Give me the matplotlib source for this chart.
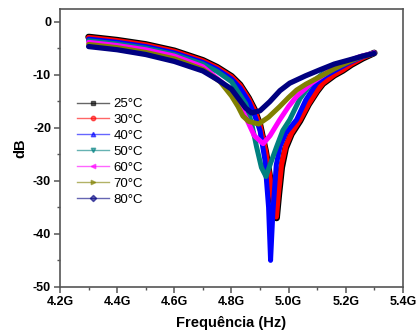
import matplotlib
matplotlib.use("Agg")
import matplotlib.pyplot as plt
from matplotlib.ticker import MultipleLocator, FuncFormatter
from matplotlib.lines import Line2D

plt.rcParams['font.family'] = ['Liberation Sans', 'DejaVu Sans']

labels = ["25°C", "30°C", "40°C", "50°C", "60°C", "70°C", "80°C"]
colors = ["#000000", "#ff0000", "#0000ff", "#008080", "#ff00ff", "#808000", "#000080"]
markers = ["s", "o", "^", "v", "<", ">", "D"]

# frequency (GHz) and S11 (dB)
f25 = [4.30, 4.40, 4.50, 4.60, 4.70, 4.75, 4.80, 4.83, 4.86, 4.88, 4.90, 4.92, 4.935, 4.95, 4.958,
       4.966, 4.976, 4.99, 5.01, 5.04, 5.07, 5.10, 5.12, 5.16, 5.19, 5.22, 5.26, 5.30]
db25 = [-2.9, -3.5, -4.3, -5.5, -7.3, -8.6, -10.3, -11.9, -14.4, -16.5, -19.5, -24.5, -29.5, -35.0, -37.0,
        -32.5, -27.5, -23.8, -21.2, -18.7, -15.6, -13.1, -11.7, -10.1, -9.2, -8.1, -6.9, -5.9]

f30 = [4.30, 4.40, 4.50, 4.60, 4.70, 4.75, 4.80, 4.83, 4.86, 4.88, 4.90, 4.92, 4.935, 4.95, 4.957,
       4.965, 4.975, 4.99, 5.01, 5.04, 5.07, 5.10, 5.12, 5.16, 5.19, 5.22, 5.26, 5.30]
db30 = [-3.0, -3.6, -4.4, -5.6, -7.4, -8.7, -10.4, -12.0, -14.5, -16.6, -19.6, -24.5, -29.5, -35.0, -36.8,
        -32.0, -27.0, -23.5, -21.0, -18.5, -15.5, -13.0, -11.6, -10.0, -9.1, -8.0, -6.8, -5.9]

f40 = [4.30, 4.40, 4.50, 4.60, 4.70, 4.75, 4.80, 4.83, 4.86, 4.88, 4.90, 4.917, 4.93, 4.937,
       4.945, 4.957, 4.97, 4.99, 5.028, 5.06, 5.098, 5.13, 5.17, 5.21, 5.25, 5.30]
db40 = [-3.3, -3.9, -4.7, -5.9, -7.7, -9.0, -10.8, -12.5, -15.0, -17.5, -20.5, -26.0, -35.0, -45.0,
        -36.0, -27.0, -23.5, -21.0, -18.5, -14.8, -11.6, -10.2, -9.0, -7.8, -6.8, -5.9]

f50 = [4.30, 4.40, 4.50, 4.60, 4.70, 4.75, 4.80, 4.85, 4.87, 4.888, 4.905, 4.921,
       4.935, 4.958, 4.98, 5.004, 5.04, 5.08, 5.12, 5.17, 5.21, 5.25, 5.30]
db50 = [-3.6, -4.2, -5.0, -6.2, -8.0, -9.4, -11.3, -15.5, -19.0, -23.6, -27.5, -29.2,
        -27.0, -23.6, -20.5, -18.5, -14.5, -11.6, -9.8, -8.5, -7.5, -6.6, -5.9]

f60 = [4.30, 4.40, 4.50, 4.60, 4.70, 4.77, 4.81, 4.85, 4.88, 4.911, 4.935, 4.969, 5.0,
       5.028, 5.08, 5.11, 5.15, 5.20, 5.25, 5.30]
db60 = [-3.9, -4.5, -5.3, -6.5, -8.5, -11.6, -14.0, -18.0, -21.5, -23.0, -21.5, -18.5, -16.0,
        -14.1, -11.6, -10.5, -9.0, -7.6, -6.6, -5.9]

f70 = [4.30, 4.40, 4.50, 4.60, 4.70, 4.76, 4.80, 4.823, 4.84, 4.86, 4.895, 4.93, 4.969,
       5.0, 5.028, 5.06, 5.109, 5.16, 5.21, 5.25, 5.30]
db70 = [-4.3, -4.9, -5.8, -7.0, -9.0, -11.3, -14.0, -16.0, -17.8, -18.8, -19.3, -18.0, -16.0,
        -14.3, -12.9, -11.8, -10.4, -8.9, -7.6, -6.7, -6.0]

f80 = [4.30, 4.40, 4.50, 4.60, 4.70, 4.75, 4.80, 4.85, 4.87, 4.90, 4.934, 4.97,
       5.004, 5.06, 5.109, 5.16, 5.214, 5.26, 5.30]
db80 = [-4.7, -5.3, -6.2, -7.5, -9.3, -10.9, -12.7, -16.3, -17.2, -16.8, -15.1, -13.0,
        -11.6, -10.2, -9.1, -8.0, -7.2, -6.5, -6.0]

freqs = [f25, f30, f40, f50, f60, f70, f80]
values = [db25, db30, db40, db50, db60, db70, db80]

fig = plt.figure(figsize=(4.17, 3.36), dpi=100)
ax = fig.add_axes([0.144, 0.146, 0.822, 0.826])

widths = [4.8, 3.8, 3.6, 3.6, 3.6, 3.6, 3.8]
for f, v, c, w in zip(freqs, values, colors, widths):
    ax.plot(f, v, color=c, lw=w, solid_capstyle='round', solid_joinstyle='round')

ax.set_xlim(4.2, 5.4)
ax.set_ylim(-50, 2.3)
ax.xaxis.set_major_locator(MultipleLocator(0.2))
ax.xaxis.set_minor_locator(MultipleLocator(0.1))
ax.yaxis.set_major_locator(MultipleLocator(10))
ax.yaxis.set_minor_locator(MultipleLocator(5))
ax.xaxis.set_major_formatter(FuncFormatter(lambda x, p: f"{x:.1f}G"))
ax.yaxis.set_major_formatter(FuncFormatter(lambda y, p: f"{y:.0f}"))

for s in ax.spines.values():
    s.set_color('#555555')
    s.set_linewidth(1.2)
ax.tick_params(which='major', direction='out', length=4, width=1.1, color='#555555',
               labelsize=9, pad=2.5)
ax.tick_params(which='minor', direction='out', length=2.5, width=1.0, color='#555555')
for lab in ax.get_xticklabels() + ax.get_yticklabels():
    lab.set_fontweight('bold')

ax.set_xlabel("Frequência (Hz)", fontsize=10.5, fontweight='bold', labelpad=6)
ax.set_ylabel("dB", fontsize=10.5, fontweight='bold', labelpad=4)

handles = [Line2D([0], [0], color=c, lw=1.0, alpha=0.6, marker=m, markersize=3.2,
                  markerfacecolor=c, markeredgecolor=c) for c, m in zip(colors, markers)]
leg = ax.legend(handles, labels, loc='upper left', bbox_to_anchor=(0.035, 0.70),
                frameon=False, fontsize=9.5, handlelength=2.4, handletextpad=0.35,
                labelspacing=0.28, borderaxespad=0.0)

fig.savefig("out.png", dpi=100)
